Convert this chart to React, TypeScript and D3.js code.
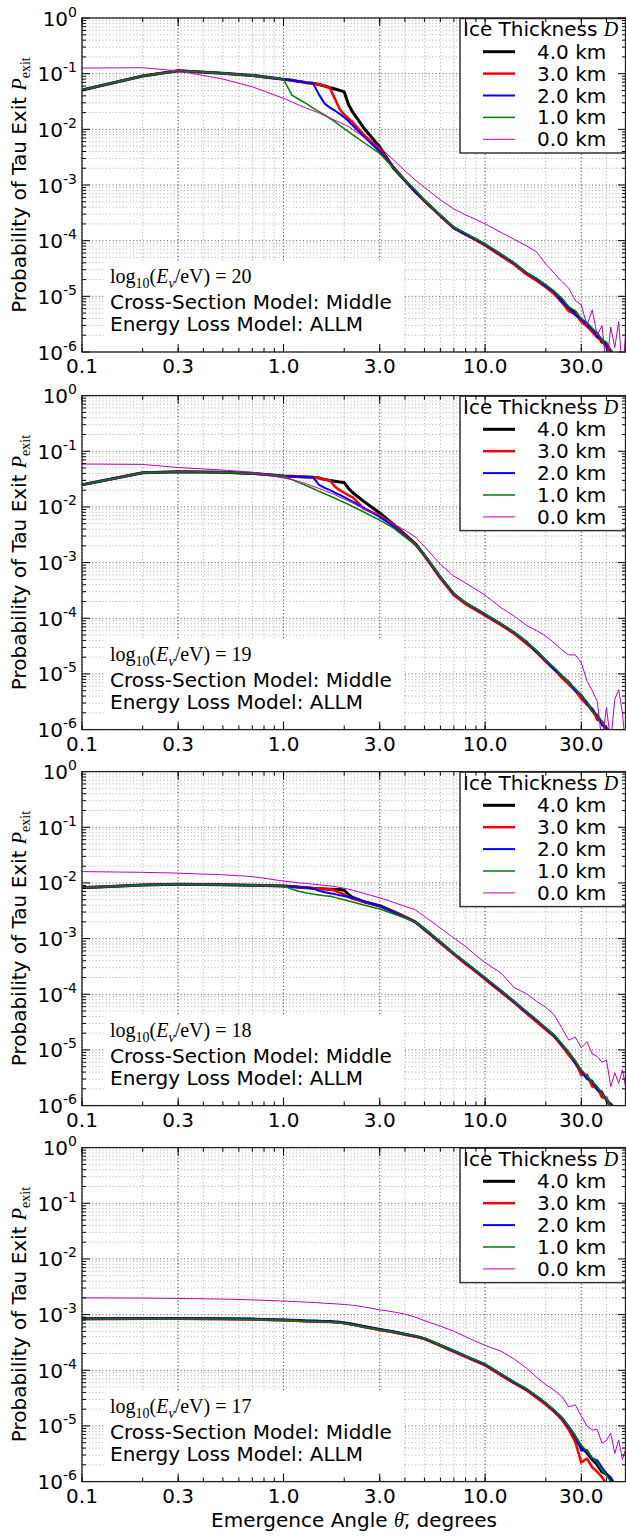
import React from "react";
import * as d3 from "d3";

// shared emergence-angle grid (degrees)
const angles = [
  0.1, 0.2, 0.3, 0.5, 0.7,
  1.0, 1.1, 1.2, 1.3, 1.4, 1.5, 1.6, 1.7, 1.8, 1.9, 2.0, 2.1, 2.2,
  2.5, 3.0, 3.5, 4.0, 4.5, 5, 6, 7, 8, 9,
  10, 12, 14, 16, 18, 20, 22, 24, 26, 28, 30, 32, 34, 36, 38, 40, 42, 44, 46, 48, 50,
];

const thicknessLabels = ["4.0 km", "3.0 km", "2.0 km", "1.0 km", "0.0 km"];
const energyExponents = [20, 19, 18, 17];
const xTickValues = [0.1, 0.3, 1, 3, 10, 30];
const xTickLabels = ["0.1", "0.3", "1.0", "3.0", "10.0", "30.0"];
const yTickExponents = [0, -1, -2, -3, -4, -5, -6];

// ---------- log10(E/eV) = 20 ----------
const e20_4km = [
  5.1e-2, 9.1e-2, 1.13e-1, 1.02e-1, 9.3e-2,
  7.9e-2, 7.6e-2, 7.2e-2, 6.9e-2, 6.7e-2, 6.4e-2, 6.0e-2, 5.6e-2, 5.3e-2, 5.0e-2, 4.7e-2, 2.8e-2, 2.05e-2,
  1.06e-2, 4.8e-3, 2.05e-3, 1.2e-3, 7.6e-4, 5.2e-4, 2.8e-4, 1.7e-4, 1.31e-4, 1.05e-4,
  8.4e-5, 5.5e-5, 3.8e-5, 2.6e-5, 2.0e-5, 1.55e-5, 1.15e-5, 8.8e-6, 6.0e-6, 5.2e-6, 3.7e-6, 3.2e-6, 2.4e-6, 2.1e-6, 1.5e-6, 1.4e-6, 1.0e-6, 7.5e-7, 5e-7, 3e-7, 2e-7,
];
const e20_3km = [
  5.1e-2, 9.1e-2, 1.13e-1, 1.02e-1, 9.3e-2,
  7.9e-2, 7.6e-2, 7.2e-2, 6.9e-2, 6.7e-2, 6.4e-2, 6.0e-2, 5.5e-2, 3.5e-2, 2.3e-2, 1.85e-2, 1.55e-2, 1.35e-2,
  8.0e-3, 4.3e-3, 2.15e-3, 1.22e-3, 7.8e-4, 5.2e-4, 2.8e-4, 1.68e-4, 1.28e-4, 1.02e-4,
  8.2e-5, 5.3e-5, 3.7e-5, 2.5e-5, 1.9e-5, 1.45e-5, 1.1e-5, 7.8e-6, 5.4e-6, 4.8e-6, 3.5e-6, 2.9e-6, 2.3e-6, 1.8e-6, 1.6e-6, 1.2e-6, 9e-7, 7e-7, 5e-7, 3e-7, 2e-7,
];
const e20_2km = [
  5.1e-2, 9.1e-2, 1.13e-1, 1.02e-1, 9.3e-2,
  7.9e-2, 7.6e-2, 7.2e-2, 6.9e-2, 6.7e-2, 4.2e-2, 2.9e-2, 2.45e-2, 2.16e-2, 1.9e-2, 1.64e-2, 1.4e-2, 1.18e-2,
  7.4e-3, 4.0e-3, 2.1e-3, 1.2e-3, 7.9e-4, 5.3e-4, 2.85e-4, 1.7e-4, 1.3e-4, 1.04e-4,
  8.5e-5, 5.6e-5, 3.9e-5, 2.65e-5, 2.05e-5, 1.5e-5, 1.2e-5, 8.0e-6, 6.2e-6, 4.6e-6, 3.9e-6, 3.0e-6, 2.6e-6, 1.9e-6, 1.7e-6, 1.3e-6, 1.1e-6, 8.5e-7, 6e-7, 4e-7, 2e-7,
];
const e20_1km = [
  5.1e-2, 9.1e-2, 1.13e-1, 1.02e-1, 9.3e-2,
  7.9e-2, 4.1e-2, 3.4e-2, 2.9e-2, 2.4e-2, 2.08e-2, 1.8e-2, 1.57e-2, 1.36e-2, 1.18e-2, 1.03e-2, 9.1e-3, 8.0e-3,
  5.8e-3, 3.7e-3, 2.05e-3, 1.22e-3, 8.2e-4, 5.4e-4, 2.9e-4, 1.75e-4, 1.35e-4, 1.08e-4,
  8.7e-5, 5.8e-5, 4.0e-5, 2.7e-5, 2.1e-5, 1.6e-5, 1.25e-5, 9.2e-6, 6.5e-6, 5.5e-6, 4.0e-6, 3.4e-6, 2.7e-6, 2.2e-6, 1.7e-6, 1.5e-6, 1.1e-6, 9e-7, 7e-7, 4e-7, 3e-7,
];
const e20_0km = [
  1.26e-1, 1.28e-1, 1.12e-1, 8.0e-2, 5.8e-2,
  3.6e-2, 3.1e-2, 2.7e-2, 2.4e-2, 2.17e-2, 1.97e-2, 1.76e-2, 1.6e-2, 1.45e-2, 1.33e-2, 1.22e-2, 1.12e-2, 1.0e-2,
  7.3e-3, 4.7e-3, 2.85e-3, 1.8e-3, 1.23e-3, 9.1e-4, 5.4e-4, 3.7e-4, 2.9e-4, 2.4e-4,
  2.0e-4, 1.4e-4, 1.05e-4, 8.1e-5, 6.3e-5, 3.8e-5, 2.6e-5, 1.85e-5, 1.4e-5, 8.5e-6, 7e-6, 3.0e-6, 5.7e-6, 2.0e-6, 3.0e-6, 5e-7, 2.8e-6, 1.2e-6, 3.5e-6, 4e-7, 2.5e-6,
];

// ---------- log10(E/eV) = 19 ----------
const e19_4km = [
  2.5e-2, 4.1e-2, 4.3e-2, 4.2e-2, 4.0e-2,
  3.6e-2, 3.55e-2, 3.5e-2, 3.45e-2, 3.4e-2, 3.3e-2, 3.1e-2, 3.0e-2, 2.9e-2, 2.8e-2, 2.74e-2, 2.15e-2, 1.82e-2,
  1.26e-2, 7.8e-3, 4.9e-3, 3.2e-3, 2.2e-3, 1.35e-3, 5.4e-4, 2.7e-4, 1.85e-4, 1.45e-4,
  1.15e-4, 7.7e-5, 5.4e-5, 3.7e-5, 2.5e-5, 1.7e-5, 1.23e-5, 9.1e-6, 6.9e-6, 5.2e-6, 4.0e-6, 3.0e-6, 2.2e-6, 1.7e-6, 1.3e-6, 1.0e-6, 7e-7, 5e-7, 4e-7, 3e-7, 2e-7,
];
const e19_3km = [
  2.5e-2, 4.1e-2, 4.3e-2, 4.2e-2, 4.0e-2,
  3.6e-2, 3.55e-2, 3.5e-2, 3.45e-2, 3.4e-2, 3.3e-2, 3.1e-2, 3.0e-2, 2.3e-2, 2.0e-2, 1.8e-2, 1.62e-2, 1.5e-2,
  9.3e-3, 7.0e-3, 4.7e-3, 3.1e-3, 2.15e-3, 1.33e-3, 5.2e-4, 2.6e-4, 1.8e-4, 1.4e-4,
  1.12e-4, 7.5e-5, 5.2e-5, 3.5e-5, 2.6e-5, 1.65e-5, 1.25e-5, 8.5e-6, 6.5e-6, 5.0e-6, 3.6e-6, 2.8e-6, 2.4e-6, 1.5e-6, 1.4e-6, 9e-7, 8e-7, 5e-7, 4e-7, 3e-7, 2e-7,
];
const e19_2km = [
  2.5e-2, 4.1e-2, 4.3e-2, 4.2e-2, 4.0e-2,
  3.6e-2, 3.55e-2, 3.5e-2, 3.45e-2, 3.4e-2, 2.5e-2, 2.2e-2, 2.0e-2, 1.8e-2, 1.65e-2, 1.5e-2, 1.37e-2, 1.25e-2,
  9.6e-3, 6.6e-3, 4.5e-3, 3.0e-3, 2.1e-3, 1.38e-3, 5.5e-4, 2.75e-4, 1.9e-4, 1.48e-4,
  1.17e-4, 7.9e-5, 5.5e-5, 3.8e-5, 2.55e-5, 1.75e-5, 1.2e-5, 9.3e-6, 7.2e-6, 5.0e-6, 4.2e-6, 2.9e-6, 2.3e-6, 1.8e-6, 1.2e-6, 1.1e-6, 9e-7, 6e-7, 8e-7, 4e-7, 3e-7,
];
const e19_1km = [
  2.5e-2, 4.1e-2, 4.3e-2, 4.2e-2, 4.0e-2,
  3.6e-2, 3.1e-2, 2.7e-2, 2.4e-2, 2.14e-2, 1.9e-2, 1.73e-2, 1.57e-2, 1.43e-2, 1.3e-2, 1.2e-2, 1.11e-2, 1.02e-2,
  8.1e-3, 5.8e-3, 4.2e-3, 2.9e-3, 2.1e-3, 1.4e-3, 5.6e-4, 2.8e-4, 1.9e-4, 1.5e-4,
  1.2e-4, 8.0e-5, 5.6e-5, 3.9e-5, 2.6e-5, 1.8e-5, 1.3e-5, 9.5e-6, 7.0e-6, 5.4e-6, 4.1e-6, 3.2e-6, 2.1e-6, 1.9e-6, 1.4e-6, 1.1e-6, 8e-7, 7e-7, 5e-7, 3e-7, 2e-7,
];
const e19_0km = [
  5.9e-2, 5.8e-2, 5.1e-2, 4.6e-2, 4.2e-2,
  3.3e-2, 3.1e-2, 2.85e-2, 2.6e-2, 2.35e-2, 2.15e-2, 1.95e-2, 1.8e-2, 1.65e-2, 1.5e-2, 1.38e-2, 1.28e-2, 1.18e-2,
  9.3e-3, 7.0e-3, 5.0e-3, 3.8e-3, 2.9e-3, 1.95e-3, 9.3e-4, 5.7e-4, 4.3e-4, 3.3e-4,
  2.6e-4, 1.55e-4, 1.08e-4, 7.5e-5, 6.0e-5, 4.8e-5, 3.6e-5, 2.7e-5, 2.2e-5, 2.2e-5, 1.6e-5, 7.5e-6, 5.0e-6, 3.2e-6, 6e-7, 2.5e-6, 6e-7, 3.5e-6, 5.2e-6, 2.0e-6, 4e-7,
];

// ---------- log10(E/eV) = 18 ----------
const e18_4km = [
  8.2e-3, 9.2e-3, 9.5e-3, 9.3e-3, 9.1e-3,
  8.8e-3, 8.6e-3, 8.4e-3, 8.2e-3, 8.0e-3, 7.9e-3, 7.8e-3, 7.7e-3, 7.6e-3, 7.6e-3, 7.4e-3, 6.2e-3, 5.5e-3,
  4.6e-3, 3.9e-3, 3.07e-3, 2.45e-3, 2.0e-3, 1.47e-3, 8.5e-4, 5.3e-4, 3.6e-4, 2.6e-4,
  1.9e-4, 1.12e-4, 7.1e-5, 4.7e-5, 3.3e-5, 2.4e-5, 1.8e-5, 1.23e-5, 8.7e-6, 5.9e-6, 4.0e-6, 3.2e-6, 2.6e-6, 2.0e-6, 1.6e-6, 1.3e-6, 1.0e-6, 7e-7, 5e-7, 3e-7, 2e-7,
];
const e18_3km = [
  8.2e-3, 9.2e-3, 9.5e-3, 9.3e-3, 9.1e-3,
  8.8e-3, 8.6e-3, 8.4e-3, 8.2e-3, 8.0e-3, 7.9e-3, 7.8e-3, 7.7e-3, 7.2e-3, 6.7e-3, 6.2e-3, 5.6e-3, 5.2e-3,
  4.6e-3, 3.8e-3, 3.05e-3, 2.45e-3, 2.0e-3, 1.45e-3, 8.3e-4, 5.2e-4, 3.5e-4, 2.55e-4,
  1.85e-4, 1.1e-4, 7.0e-5, 4.6e-5, 3.2e-5, 2.3e-5, 1.75e-5, 1.2e-5, 8.0e-6, 6.2e-6, 3.5e-6, 3.6e-6, 2.2e-6, 2.1e-6, 1.4e-6, 1.4e-6, 8e-7, 8e-7, 5e-7, 3e-7, 2e-7,
];
const e18_2km = [
  8.2e-3, 9.2e-3, 9.5e-3, 9.3e-3, 9.1e-3,
  8.8e-3, 8.6e-3, 8.4e-3, 8.2e-3, 8.0e-3, 7.2e-3, 6.8e-3, 6.55e-3, 6.3e-3, 6.0e-3, 5.8e-3, 5.6e-3, 5.4e-3,
  4.7e-3, 3.8e-3, 3.0e-3, 2.4e-3, 2.0e-3, 1.48e-3, 8.6e-4, 5.4e-4, 3.7e-4, 2.65e-4,
  1.95e-4, 1.15e-4, 7.3e-5, 4.8e-5, 3.4e-5, 2.45e-5, 1.8e-5, 1.25e-5, 9.0e-6, 6.0e-6, 4.3e-6, 3.0e-6, 2.8e-6, 1.9e-6, 1.8e-6, 1.2e-6, 1.1e-6, 9e-7, 6e-7, 4e-7, 3e-7,
];
const e18_1km = [
  8.2e-3, 9.2e-3, 9.5e-3, 9.3e-3, 9.1e-3,
  8.8e-3, 7.8e-3, 7.0e-3, 6.6e-3, 6.3e-3, 6.1e-3, 5.9e-3, 5.75e-3, 5.5e-3, 5.2e-3, 5.0e-3, 4.75e-3, 4.55e-3,
  4.0e-3, 3.4e-3, 2.8e-3, 2.35e-3, 2.0e-3, 1.5e-3, 8.8e-4, 5.5e-4, 3.8e-4, 2.7e-4,
  2.0e-4, 1.18e-4, 7.5e-5, 5.0e-5, 3.5e-5, 2.5e-5, 1.85e-5, 1.3e-5, 9.2e-6, 6.4e-6, 4.4e-6, 3.4e-6, 2.7e-6, 2.2e-6, 1.7e-6, 1.3e-6, 1.0e-6, 8e-7, 6e-7, 4e-7, 2e-7,
];
const e18_0km = [
  1.6e-2, 1.55e-2, 1.5e-2, 1.4e-2, 1.3e-2,
  1.08e-2, 1.04e-2, 1.0e-2, 9.8e-3, 9.5e-3, 9.3e-3, 9.0e-3, 8.8e-3, 8.6e-3, 8.3e-3, 8.0e-3, 7.7e-3, 7.4e-3,
  6.5e-3, 5.4e-3, 4.5e-3, 3.8e-3, 3.3e-3, 2.5e-3, 1.55e-3, 1.02e-3, 7.2e-4, 5.0e-4,
  3.7e-4, 2.4e-4, 1.3e-4, 1.03e-4, 7.5e-5, 5.8e-5, 4.3e-5, 2.5e-5, 1.5e-5, 1.7e-5, 1.1e-5, 1.4e-5, 8.5e-6, 7.6e-6, 6.0e-6, 6.6e-6, 2.2e-6, 3.9e-6, 2.5e-6, 4.4e-6, 2.0e-6,
];

// ---------- log10(E/eV) = 17 ----------
const e17_4km = [
  8.4e-4, 8.5e-4, 8.5e-4, 8.4e-4, 8.3e-4,
  8.0e-4, 7.9e-4, 7.8e-4, 7.7e-4, 7.65e-4, 7.6e-4, 7.55e-4, 7.5e-4, 7.4e-4, 7.3e-4, 7.1e-4, 6.9e-4, 6.7e-4,
  6.1e-4, 5.4e-4, 4.9e-4, 4.45e-4, 4.1e-4, 3.7e-4, 2.8e-4, 2.2e-4, 1.78e-4, 1.48e-4,
  1.26e-4, 8.3e-5, 5.9e-5, 4.5e-5, 3.3e-5, 2.5e-5, 1.85e-5, 1.38e-5, 9.3e-6, 6.1e-6, 4.2e-6, 3.3e-6, 2.5e-6, 2.0e-6, 1.5e-6, 1.35e-6, 1.1e-6, 8e-7, 7e-7, 4e-7, 3e-7,
];
const e17_3km = [
  8.3e-4, 8.4e-4, 8.4e-4, 8.3e-4, 8.2e-4,
  7.9e-4, 7.8e-4, 7.7e-4, 7.6e-4, 7.55e-4, 7.5e-4, 7.45e-4, 7.4e-4, 7.3e-4, 7.2e-4, 7.0e-4, 6.8e-4, 6.6e-4,
  6.0e-4, 5.3e-4, 4.8e-4, 4.4e-4, 4.05e-4, 3.65e-4, 2.75e-4, 2.15e-4, 1.75e-4, 1.45e-4,
  1.22e-4, 8.1e-5, 5.8e-5, 4.4e-5, 3.2e-5, 2.4e-5, 1.8e-5, 1.3e-5, 8.5e-6, 5.2e-6, 2.2e-6, 2.6e-6, 1.8e-6, 1.5e-6, 1.2e-6, 9e-7, 1.0e-6, 7e-7, 5e-7, 3e-7, 2e-7,
];
const e17_2km = [
  8.4e-4, 8.5e-4, 8.5e-4, 8.4e-4, 8.3e-4,
  8.0e-4, 7.9e-4, 7.8e-4, 7.7e-4, 7.6e-4, 7.6e-4, 7.5e-4, 7.45e-4, 7.35e-4, 7.25e-4, 7.05e-4, 6.85e-4, 6.65e-4,
  6.05e-4, 5.4e-4, 4.9e-4, 4.45e-4, 4.1e-4, 3.7e-4, 2.8e-4, 2.22e-4, 1.8e-4, 1.5e-4,
  1.27e-4, 8.5e-5, 6.0e-5, 4.6e-5, 3.4e-5, 2.55e-5, 1.9e-5, 1.4e-5, 9.5e-6, 6.5e-6, 3.6e-6, 3.7e-6, 2.6e-6, 2.4e-6, 1.8e-6, 1.4e-6, 1.2e-6, 9e-7, 7e-7, 5e-7, 3e-7,
];
const e17_1km = [
  8.3e-4, 8.4e-4, 8.4e-4, 8.3e-4, 8.2e-4,
  7.9e-4, 7.8e-4, 7.7e-4, 7.6e-4, 7.5e-4, 7.45e-4, 7.4e-4, 7.3e-4, 7.2e-4, 7.1e-4, 6.9e-4, 6.75e-4, 6.6e-4,
  6.0e-4, 5.35e-4, 4.85e-4, 4.5e-4, 4.15e-4, 3.75e-4, 2.85e-4, 2.25e-4, 1.82e-4, 1.52e-4,
  1.3e-4, 8.7e-5, 6.2e-5, 4.7e-5, 3.5e-5, 2.6e-5, 1.95e-5, 1.45e-5, 1.0e-5, 6.8e-6, 4.5e-6, 3.5e-6, 2.7e-6, 2.2e-6, 1.6e-6, 1.3e-6, 1.0e-6, 8e-7, 6e-7, 4e-7, 3e-7,
];
const e17_0km = [
  2.0e-3, 1.98e-3, 1.95e-3, 1.9e-3, 1.84e-3,
  1.75e-3, 1.72e-3, 1.7e-3, 1.67e-3, 1.65e-3, 1.63e-3, 1.6e-3, 1.58e-3, 1.56e-3, 1.54e-3, 1.52e-3, 1.5e-3, 1.47e-3,
  1.38e-3, 1.22e-3, 1.12e-3, 1.02e-3, 9.0e-4, 7.8e-4, 6.2e-4, 5.0e-4, 4.0e-4, 3.3e-4,
  2.8e-4, 2.2e-4, 1.57e-4, 1.1e-4, 7.5e-5, 5.5e-5, 4.4e-5, 3.4e-5, 2.2e-5, 2.4e-5, 1.5e-5, 1.0e-5, 8.5e-6, 8.6e-6, 4.9e-6, 5.5e-6, 7.4e-6, 3.2e-6, 5.6e-6, 2.5e-6, 4e-6,
];

const panelSeries = [
  [e20_4km, e20_3km, e20_2km, e20_1km, e20_0km],
  [e19_4km, e19_3km, e19_2km, e19_1km, e19_0km],
  [e18_4km, e18_3km, e18_2km, e18_1km, e18_0km],
  [e17_4km, e17_3km, e17_2km, e17_1km, e17_0km],
];

// styles
const colors = ["#000000", "#ff0000", "#0000ff", "#008000", "#bf00bf"];
const widths = [3, 2.5, 2, 1.5, 1];
const SANS = "'DejaVu Sans', sans-serif";
const SERIF = "'Liberation Serif', 'DejaVu Serif', serif";

export default function App() {
  const W = 626, H = 1537, L = 82, R = 626, PH = 334;
  const tops = [18, 395.6, 771.6, 1147.6];
  const x = d3.scaleLog().domain([0.1, 50]).range([L, R]);

  const xMinor: number[] = [];
  for (const dec of [0.1, 1, 10]) {
    for (let k = 1; k <= 9; k++) {
      const v = k * dec;
      if (v <= 50.0001) xMinor.push(v);
    }
  }
  const yMinor: number[] = [];
  for (let e = -6; e < 0; e++) for (let k = 2; k <= 9; k++) yMinor.push(k * Math.pow(10, e));
  const yMajor = yTickExponents.map((e) => Math.pow(10, e));

  return (
    <div style={{ position: "absolute", left: 0, top: 0 }}>
      <svg width={W} height={H} viewBox={`0 0 ${W} ${H}`} style={{ display: "block", background: "#fff" }}>
        <rect x={0} y={0} width={W} height={H} fill="#fff" />
        {tops.map((T, pi) => {
          const B = T + PH;
          const y = d3.scaleLog().domain([1e-6, 1]).range([B, T]);
          const line = d3
            .line<number>()
            .x((_, i) => x(angles[i]))
            .y((d) => y(d));
          const series = panelSeries[pi];
          const legendY = (i: number) => T + 33.7 + i * 21.9;
          return (
            <g key={pi}>
              <defs>
                <clipPath id={`clip${pi}`}>
                  <rect x={L} y={T} width={R - L} height={PH} />
                </clipPath>
              </defs>
              {/* grid */}
              <g fill="none">
                {xMinor.map((v, i) => (
                  <line key={`xm${i}`} x1={x(v)} x2={x(v)} y1={T} y2={B} stroke="#8c8c8c" strokeWidth={0.7} strokeDasharray="1,2.4" />
                ))}
                {yMinor.map((v, i) => (
                  <line key={`ym${i}`} x1={L} x2={R} y1={y(v)} y2={y(v)} stroke="#8c8c8c" strokeWidth={0.7} strokeDasharray="1,2.4" />
                ))}
                {xTickValues.map((v, i) => (
                  <line key={`xM${i}`} x1={x(v)} x2={x(v)} y1={T} y2={B} stroke="#444" strokeWidth={0.9} strokeDasharray="1,2.4" />
                ))}
                {yMajor.map((v, i) => (
                  <line key={`yM${i}`} x1={L} x2={R} y1={y(v)} y2={y(v)} stroke="#444" strokeWidth={0.9} strokeDasharray="1,2.4" />
                ))}
              </g>
              {/* data */}
              <g clipPath={`url(#clip${pi})`} fill="none" strokeLinejoin="round">
                {series.map((s, si) => (
                  <path key={si} d={line(s) || ""} stroke={colors[si]} strokeWidth={widths[si]} />
                ))}
              </g>
              {/* annotation */}
              <rect x={104} y={T + 243} width={300} height={86} fill="#fff" />
              <text x={110} y={T + 265} fontFamily={SERIF} fontSize={20} fill="#000">
                log<tspan fontSize={14} dy={5}>10</tspan>
                <tspan dy={-5}>(</tspan>
                <tspan fontStyle="italic">E</tspan>
                <tspan fontSize={14} fontStyle="italic" dy={5}>ν</tspan>
                <tspan dy={-5}>/eV) = {energyExponents[pi]}</tspan>
              </text>
              <text x={110} y={T + 291} fontFamily={SANS} fontSize={20} fill="#000">
                Cross-Section Model: Middle
              </text>
              <text x={110} y={T + 313} fontFamily={SANS} fontSize={20} fill="#000">
                Energy Loss Model: ALLM
              </text>
              {/* legend */}
              <rect x={460} y={T + 0.5} width={200} height={134.5} fill="#fff" stroke="#333" strokeWidth={1.5} />
              <text x={463} y={T + 18} fontFamily={SANS} fontSize={20} fill="#000">
                Ice Thickness <tspan fontFamily={SERIF} fontStyle="italic">D</tspan>
              </text>
              {thicknessLabels.map((lab, i) => (
                <g key={lab}>
                  <line x1={483} x2={515} y1={legendY(i)} y2={legendY(i)} stroke={colors[i]} strokeWidth={widths[i]} />
                  <text x={537} y={legendY(i) + 7} fontFamily={SANS} fontSize={20} fill="#000">
                    {lab}
                  </text>
                </g>
              ))}
              {/* ticks */}
              <g stroke="#000" strokeWidth={1}>
                {xMinor.map((v, i) => (
                  <g key={`xt${i}`}>
                    <line x1={x(v)} x2={x(v)} y1={B} y2={B - 4} />
                    <line x1={x(v)} x2={x(v)} y1={T} y2={T + 4} />
                  </g>
                ))}
                {xTickValues.map((v, i) => (
                  <g key={`xT${i}`}>
                    <line x1={x(v)} x2={x(v)} y1={B} y2={B - 8} />
                    <line x1={x(v)} x2={x(v)} y1={T} y2={T + 8} />
                  </g>
                ))}
                {yMinor.map((v, i) => (
                  <g key={`yt${i}`}>
                    <line x1={L} x2={L + 4} y1={y(v)} y2={y(v)} />
                    <line x1={R} x2={R - 4} y1={y(v)} y2={y(v)} />
                  </g>
                ))}
                {yMajor.map((v, i) => (
                  <g key={`yT${i}`}>
                    <line x1={L} x2={L + 8} y1={y(v)} y2={y(v)} />
                    <line x1={R} x2={R - 8} y1={y(v)} y2={y(v)} />
                  </g>
                ))}
              </g>
              {/* spines */}
              <rect x={L} y={T} width={R - L - 0.5} height={PH} fill="none" stroke="#222" strokeWidth={1.3} />
              {/* tick labels */}
              {yTickExponents.map((e, i) => (
                <text key={`yl${i}`} x={77} y={y(Math.pow(10, e)) + 7.5} textAnchor="end" fontFamily={SANS} fontSize={20} fill="#000">
                  10<tspan fontSize={14} dy={-9}>{e === 0 ? "0" : `-${-e}`}</tspan>
                </text>
              ))}
              {xTickValues.map((v, i) => (
                <text key={`xl${i}`} x={x(v)} y={B + 21} textAnchor="middle" fontFamily={SANS} fontSize={20} fill="#000">
                  {xTickLabels[i]}
                </text>
              ))}
              {/* y label */}
              <text transform={`translate(26,${(T + B) / 2}) rotate(-90)`} textAnchor="middle" fontFamily={SANS} fontSize={20} fill="#000">
                Probability of Tau Exit <tspan fontFamily={SERIF} fontStyle="italic">P</tspan>
                <tspan fontFamily={SERIF} fontSize={14} dy={4}>exit</tspan>
              </text>
            </g>
          );
        })}
        <text x={354} y={1527} textAnchor="middle" fontFamily={SANS} fontSize={20} fill="#000">
          Emergence Angle <tspan fontFamily={SERIF} fontStyle="italic">θ̄</tspan>, degrees
        </text>
      </svg>
    </div>
  );
}
